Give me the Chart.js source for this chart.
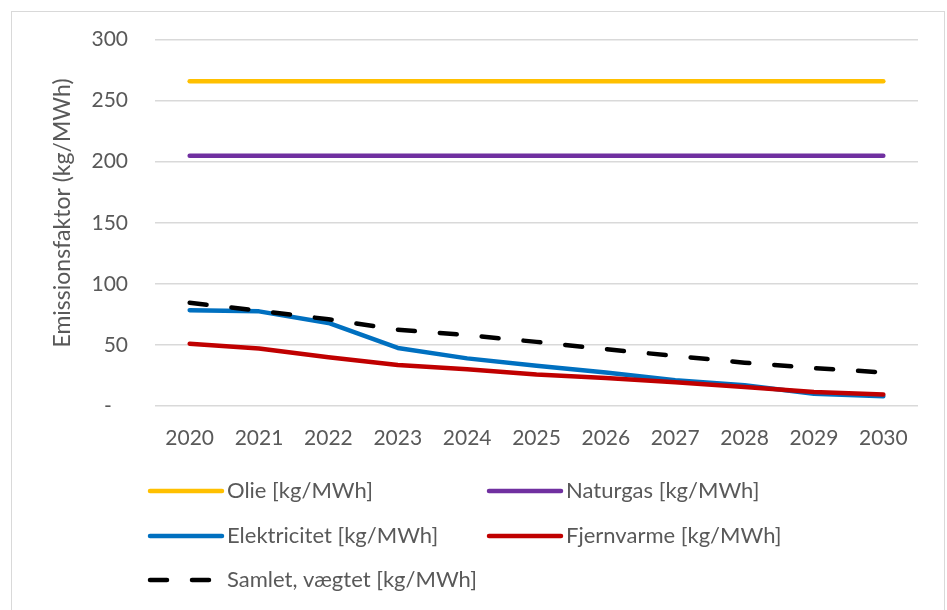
<!DOCTYPE html>
<html lang="da">
<head>
<meta charset="utf-8">
<title>Emissionsfaktorer 2020-2030</title>
<script src="https://cdn.jsdelivr.net/npm/chart.js@4.4.1/dist/chart.umd.min.js"></script>
<style>
  html, body { margin: 0; padding: 0; background: #ffffff; }
  #wrap { position: relative; width: 947px; height: 610px; overflow: hidden; }
  #frame { position: absolute; left: 11px; top: 11px; width: 934px; height: 620px;
           border: 1px solid #d9d9d9; box-sizing: border-box; pointer-events: none; }
  canvas { position: absolute; left: 0; top: 0; }
</style>
</head>
<body>
<div id="wrap">
  <canvas id="chart" width="947" height="610"></canvas>
  <div id="frame"></div>
</div>
<script>
// Years on the x axis
const years = ['2020','2021','2022','2023','2024','2025','2026','2027','2028','2029','2030'];

// Emission factors per energy source, kg/MWh
const olie         = [266, 266, 266, 266, 266, 266, 266, 266, 266, 266, 266];
const naturgas     = [205, 205, 205, 205, 205, 205, 205, 205, 205, 205, 205];
const elektricitet = [78.5, 77.5, 68, 47.5, 39, 33, 27.5, 21, 17, 10, 8];
const fjernvarme   = [51, 47, 40, 33.5, 30, 25.7, 23, 19.5, 15.5, 11.5, 9.5];
const samlet       = [84.5, 78, 71, 62.5, 58, 52.5, 46.5, 41, 35.5, 31, 27.5];

// Y axis tick values (0 is shown as a dash, accounting style)
const yTicks = [0, 50, 100, 150, 200, 250, 300];

const yTitle = 'Emissionsfaktor (kg/MWh)';

const FONT = 'Lato, "Open Sans", sans-serif';
const TEXT = '#595959';
const GRID = '#d9d9d9';
const LW = 4.5;
const DASH = [17, 25];

// Legend laid out in two columns, three rows
const legendLayout = [
  { x: 150, y: 491 }, { x: 489, y: 491 },
  { x: 150, y: 536 }, { x: 489, y: 536 },
  { x: 150, y: 580 }
];

const twoColumnLegend = {
  id: 'twoColumnLegend',
  afterDraw(chart) {
    const ctx = chart.ctx;
    ctx.save();
    chart.data.datasets.forEach((ds, i) => {
      const pos = legendLayout[i];
      if (!pos) return;
      ctx.beginPath();
      ctx.strokeStyle = ds.borderColor;
      ctx.lineWidth = ds.borderWidth;
      ctx.lineCap = 'round';
      ctx.setLineDash(ds.borderDash || []);
      ctx.moveTo(pos.x, pos.y);
      ctx.lineTo(pos.x + 72, pos.y);
      ctx.stroke();
      ctx.setLineDash([]);
      ctx.fillStyle = TEXT;
      ctx.font = '22px ' + FONT;
      ctx.textBaseline = 'middle';
      ctx.textAlign = 'left';
      ctx.fillText(ds.label, pos.x + 77, pos.y);
    });
    ctx.restore();
  }
};

// Rotated y axis title, placed a little above the plot's vertical centre
const yAxisTitle = {
  id: 'yAxisTitle',
  afterDraw(chart) {
    const ctx = chart.ctx;
    ctx.save();
    ctx.translate(63, 213);
    ctx.rotate(-Math.PI / 2);
    ctx.fillStyle = TEXT;
    ctx.font = '23px ' + FONT;
    ctx.textAlign = 'center';
    ctx.textBaseline = 'middle';
    ctx.fillText(yTitle, 0, 0);
    ctx.restore();
  }
};

function series(label, data, color, order, dash) {
  return {
    label, data, order,
    borderColor: color,
    backgroundColor: color,
    borderWidth: LW,
    borderDash: dash || [],
    borderCapStyle: 'round',
    borderJoinStyle: 'round',
    pointRadius: 0,
    pointHoverRadius: 0,
    tension: 0,
    fill: false
  };
}

new Chart(document.getElementById('chart'), {
  type: 'line',
  data: {
    labels: years,
    datasets: [
      series('Olie [kg/MWh]', olie, '#FFC000', 4),
      series('Naturgas [kg/MWh]', naturgas, '#7030A0', 3),
      series('Elektricitet [kg/MWh]', elektricitet, '#0070C0', 2),
      series('Fjernvarme [kg/MWh]', fjernvarme, '#C00000', 1),
      series('Samlet, vægtet [kg/MWh]', samlet, '#000000', 0, DASH)
    ]
  },
  options: {
    responsive: false,
    animation: false,
    events: [],
    layout: { padding: { left: 10, right: 29, top: 30, bottom: 154 } },
    plugins: {
      legend: { display: false },
      tooltip: { enabled: false }
    },
    scales: {
      x: {
        type: 'category',
        offset: true,
        grid: { display: false, drawTicks: false },
        border: { display: false },
        ticks: { color: TEXT, font: { family: FONT, size: 21 }, padding: 20, maxRotation: 0 },
        afterFit(scale) { scale.height = 50; }
      },
      y: {
        min: 0,
        max: 300,
        afterBuildTicks(scale) { scale.ticks = yTicks.map(v => ({ value: v })); },
        grid: { color: GRID, lineWidth: 1.5, drawTicks: false },
        border: { display: false },
        ticks: {
          color: TEXT,
          font: { family: FONT, size: 21 },
          padding: 27,
          callback: v => (v === 0 ? '-   ' : String(v))
        },
        title: { display: false },
        afterFit(scale) { scale.width = 145; }
      }
    }
  },
  plugins: [twoColumnLegend, yAxisTitle]
});
</script>
</body>
</html>
